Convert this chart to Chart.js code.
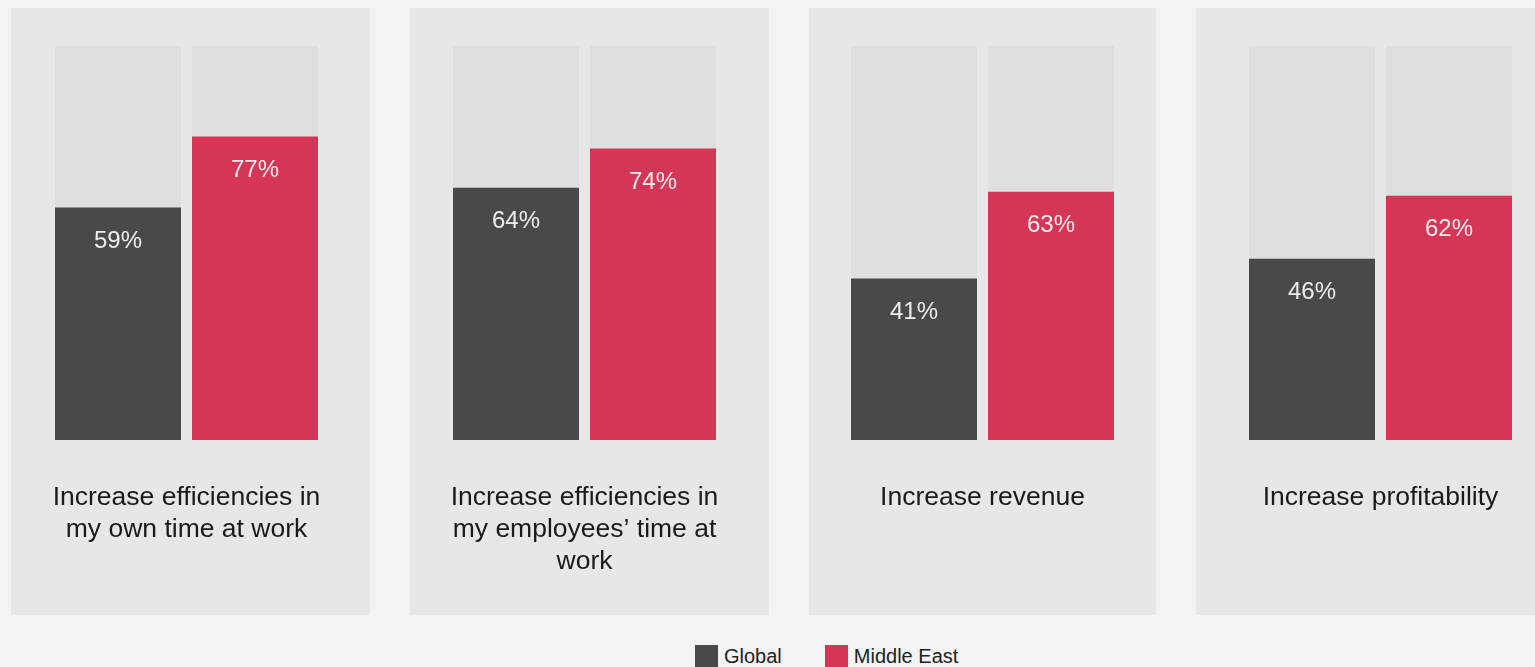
<!DOCTYPE html>
<html>
<head>
<meta charset="utf-8">
<title>Goals – Global vs Middle East</title>
<script src="https://cdn.jsdelivr.net/npm/chart.js@4.4.1/dist/chart.umd.min.js"></script>
<style>
  html, body {
    margin: 0;
    padding: 0;
    width: 1535px;
    height: 667px;
    overflow: hidden;
    background: #f2f3f5;
  }
  /* canvas is a bit wider than the window, last panel runs off the edge */
  #wrap {
    position: absolute;
    left: -13px;
    top: 0;
    width: 1600px;
    height: 620px;
  }
  #legend {
    position: absolute;
    top: 645px;
    left: 695px;
    display: flex;
    font: 20px "Liberation Sans", Arial, sans-serif;
    line-height: 23px;
    color: #222;
    white-space: nowrap;
  }
  #legend .item { display: flex; margin-right: 43px; }
  #legend .swatch { width: 23px; height: 23px; margin-right: 6px; }
</style>
</head>
<body>
<div id="wrap"><canvas id="goalsChart" width="1600" height="620"></canvas></div>
<div id="legend"></div>

<script>
// ---- data ----
const categories = [
  ["Increase efficiencies in", "my own time at work"],
  ["Increase efficiencies in", "my employees’ time at", "work"],
  "Increase revenue",
  "Increase profitability",
];
const seriesNames = ["Global", "Middle East"];
const globalValues = [59, 64, 41, 46];
const middleEastValues = [77, 74, 63, 62];
const fullScale = categories.map(() => 100);

// ---- styles ----
const GLOBAL_COLOR = "#484a49";
const ME_COLOR = "#d63655";
const TRACK_COLOR = "#dfdfdd";
const PANEL_COLOR = "#e6e7e6";
const FONT = '"Liberation Sans", Arial, sans-serif';

// panel edges, inset from each category slot [left, right]
const panelInsets = [[23.5, 15.5], [24.5, 14.5], [25.5, 25.5], [14.5, 15.5]];

// grey card behind every category
const panelPlugin = {
  id: "panels",
  beforeDraw(chart) {
    const { ctx, chartArea, scales: { x } } = chart;
    const slot = x.getPixelForValue(1) - x.getPixelForValue(0);
    const top = chartArea.top - 38;
    const bottom = chartArea.bottom + 175;
    ctx.save();
    ctx.fillStyle = PANEL_COLOR;
    categories.forEach((c, i) => {
      const cx = x.getPixelForValue(i);
      const left = cx - slot / 2 + panelInsets[i][0];
      const right = cx + slot / 2 - panelInsets[i][1];
      ctx.fillRect(left, top, right - left, bottom - top);
    });
    ctx.restore();
  },
};

// percentage written just inside the top of each bar
const valueLabelPlugin = {
  id: "valueLabels",
  afterDatasetsDraw(chart) {
    const { ctx } = chart;
    ctx.save();
    ctx.font = "24px " + FONT;
    ctx.fillStyle = "rgba(255,255,255,0.9)";
    ctx.textAlign = "center";
    ctx.textBaseline = "middle";
    [0, 1].forEach((di) => {
      const meta = chart.getDatasetMeta(di);
      meta.data.forEach((bar, i) => {
        ctx.fillText(chart.data.datasets[di].data[i] + "%", bar.x, bar.y + 34);
      });
    });
    ctx.restore();
  },
};

const ctx = document.getElementById("goalsChart").getContext("2d");

const goalsChart = new Chart(ctx, {
  type: "bar",
  data: {
    labels: categories,
    datasets: [
      { label: seriesNames[0], data: globalValues, backgroundColor: GLOBAL_COLOR, stack: "g", order: 0 },
      { label: seriesNames[1], data: middleEastValues, backgroundColor: ME_COLOR, stack: "m", order: 0 },
      { label: "track", data: fullScale, backgroundColor: TRACK_COLOR, stack: "g", order: 1 },
      { label: "track", data: fullScale, backgroundColor: TRACK_COLOR, stack: "m", order: 1 },
    ],
  },
  options: {
    responsive: false,
    animation: false,
    events: [],
    barPercentage: 126 / 137,
    categoryPercentage: 274 / 398,
    layout: { padding: { top: 46, left: 0.5, right: 7.5, bottom: 0 } },
    plugins: {
      legend: { display: false },
      tooltip: { enabled: false },
    },
    scales: {
      x: {
        stacked: true,
        grid: { display: false, drawTicks: false },
        border: { display: false },
        ticks: {
          font: { family: FONT, size: 26.5, lineHeight: 1.21 },
          color: "#1a1a1a",
          padding: 42,
          maxRotation: 0,
          autoSkip: false,
        },
        afterFit: (scale) => { scale.height = 180; },
      },
      y: {
        display: false,
        stacked: false,
        min: 0,
        max: 100,
      },
    },
  },
  plugins: [panelPlugin, valueLabelPlugin],
});

// HTML legend from the two value series
const legendEl = document.getElementById("legend");
goalsChart.data.datasets.slice(0, 2).forEach((ds) => {
  const item = document.createElement("div");
  item.className = "item";
  item.innerHTML = `<span class="swatch" style="background:${ds.backgroundColor}"></span><span>${ds.label}</span>`;
  legendEl.appendChild(item);
});
</script>
</body>
</html>
